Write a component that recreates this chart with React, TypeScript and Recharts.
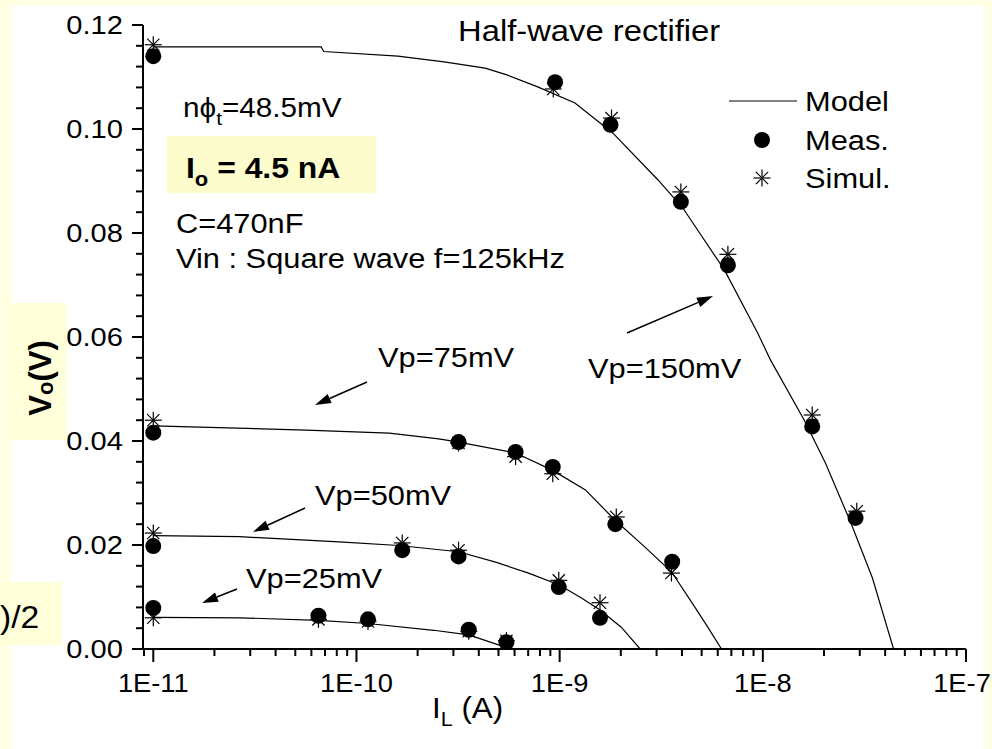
import { ComposedChart, Line, Scatter, XAxis, YAxis } from 'recharts';

const FONT = 'Arial, "Liberation Sans", Helvetica, sans-serif';

// x axis: load current I_L (A), log scale
const X_DOMAIN = [8.9e-12, 1e-7];
const X_MAJOR = [1e-11, 1e-10, 1e-9, 1e-8, 1e-7];
const X_LABELS = ['1E-11', '1E-10', '1E-9', '1E-8', '1E-7'];
const X_MINOR_STEPS = [2, 3, 4, 5, 6, 7, 8, 9];

// y axis: Vo (V)
const Y_MAJOR = [0, 0.02, 0.04, 0.06, 0.08, 0.1, 0.12];
const Y_LABELS = ['0.00', '0.02', '0.04', '0.06', '0.08', '0.10', '0.12'];
const Y_MINOR_PER_MAJOR = 5;

// model curves [I_L, Vo]
const model150 = [
  [1e-11, 0.1158], [6.7e-11, 0.1158], [6.9e-11, 0.1149], [1.6e-10, 0.114],
  [2.7e-10, 0.1129], [4.3e-10, 0.1117], [5.5e-10, 0.1104], [7.8e-10, 0.1081],
  [1.19e-9, 0.105], [1.83e-9, 0.0992], [3.05e-9, 0.0902], [4.04e-9, 0.0848],
  [6.47e-9, 0.0729], [9.42e-9, 0.0608], [1.09e-8, 0.0556], [1.6e-8, 0.044],
  [2.03e-8, 0.0358], [2.69e-8, 0.0246], [3.46e-8, 0.0137], [4.4e-8, 0],
];
const model75 = [
  [1e-11, 0.0429], [5.65e-11, 0.0421], [1.45e-10, 0.0415], [2.54e-10, 0.0404],
  [3.18e-10, 0.0398], [6.07e-10, 0.0377], [9.2e-10, 0.0344], [1.34e-9, 0.0306],
  [1.87e-9, 0.0248], [2.63e-9, 0.0196], [3.56e-9, 0.0148], [4.62e-9, 0.0081],
  [5.36e-9, 0.0042], [6.26e-9, 0],
];
const model50 = [
  [1e-11, 0.0218], [2.66e-11, 0.0216], [8.2e-11, 0.0206], [1.62e-10, 0.0199],
  [3.18e-10, 0.0187], [4.84e-10, 0.0167], [7.03e-10, 0.0146], [9.97e-10, 0.0123],
  [1.28e-9, 0.0098], [1.58e-9, 0.0075], [2.01e-9, 0.0042], [2.49e-9, 0],
];
const model25 = [
  [1e-11, 0.0061], [2.66e-11, 0.006], [6.5e-11, 0.0055], [1.14e-10, 0.0049],
  [2.4e-10, 0.0036], [3.57e-10, 0.0027], [5.0e-10, 0.0008], [5.8e-10, 0],
];

// measured points
const meas150 = [[1e-11, 0.114], [9.5e-10, 0.109], [1.78e-9, 0.1008], [3.95e-9, 0.086], [6.73e-9, 0.0738], [1.75e-8, 0.0428], [2.86e-8, 0.0252]];
const meas75 = [[1e-11, 0.0416], [3.18e-10, 0.0398], [6.07e-10, 0.0379], [9.25e-10, 0.035], [1.88e-9, 0.024], [3.58e-9, 0.0168]];
const meas50 = [[1e-11, 0.0198], [1.68e-10, 0.019], [3.18e-10, 0.0178], [9.9e-10, 0.0119], [1.58e-9, 0.006]];
const meas25 = [[1e-11, 0.0079], [6.5e-11, 0.0064], [1.14e-10, 0.0057], [3.57e-10, 0.0037], [5.47e-10, 0.0013]];

// simulated points
const sim150 = [[1e-11, 0.1162], [9.3e-10, 0.1077], [1.8e-9, 0.1021], [3.95e-9, 0.0879], [6.73e-9, 0.0759], [1.75e-8, 0.045], [2.9e-8, 0.0265]];
const sim75 = [[1e-11, 0.044], [3.18e-10, 0.0396], [6.07e-10, 0.037], [9.25e-10, 0.0337], [1.9e-9, 0.0254], [3.55e-9, 0.0146]];
const sim50 = [[1e-11, 0.0223], [1.68e-10, 0.0204], [3.18e-10, 0.019], [9.9e-10, 0.0132], [1.58e-9, 0.0089]];
const sim25 = [[1e-11, 0.006], [6.5e-11, 0.0057], [1.14e-10, 0.0053], [3.57e-10, 0.0034], [5.47e-10, 0.0016]];

const toPts = (arr: number[][]) => arr.map(([x, y]) => ({ x, y }));

const X_TICKS: number[] = [9e-12];
X_MAJOR.forEach((m, i) => {
  X_TICKS.push(m);
  if (i < X_MAJOR.length - 1) X_MINOR_STEPS.forEach((s) => X_TICKS.push(m * s));
});

const Y_TICKS: number[] = [];
Y_MAJOR.forEach((m, i) => {
  Y_TICKS.push(m);
  if (i < Y_MAJOR.length - 1) {
    const step = (Y_MAJOR[i + 1] - m) / Y_MINOR_PER_MAJOR;
    for (let k = 1; k < Y_MINOR_PER_MAJOR; k++) Y_TICKS.push(m + step * k);
  }
});

function XTick({ x, y, payload }: any) {
  const i = X_MAJOR.findIndex((v) => Math.abs(v - payload.value) / v < 1e-6);
  if (i < 0) return <line x1={x} x2={x} y1={y} y2={y + 7} stroke="#000" strokeWidth={2} />;
  // last label sits against the right edge, as in the reference
  const tx = i === X_MAJOR.length - 1 ? x - 4 : x;
  return (
    <g>
      <line x1={x} x2={x} y1={y} y2={y + 13} stroke="#000" strokeWidth={2} />
      <text transform={`translate(${tx},${y + 43}) scale(1.05,1)`} textAnchor="middle" fontSize={26} fontFamily={FONT} fill="#000">
        {X_LABELS[i]}
      </text>
    </g>
  );
}

function YTick({ x, y, payload }: any) {
  const i = Y_MAJOR.findIndex((v) => Math.abs(v - payload.value) < 1e-6);
  if (i < 0) return <line x1={x - 7} x2={x} y1={y} y2={y} stroke="#000" strokeWidth={2} />;
  return (
    <g>
      <line x1={x - 11} x2={x} y1={y} y2={y} stroke="#000" strokeWidth={2} />
      <text transform={`translate(${x - 20},${y + 9}) scale(1.12,1)`} textAnchor="end" fontSize={26} fontFamily={FONT} fill="#000">
        {Y_LABELS[i]}
      </text>
    </g>
  );
}

const dot = (p: any) => <circle cx={p.cx} cy={p.cy} r={8} fill="#000" />;

function star(p: any) {
  const r = 8.5;
  const d = r * 0.72;
  return (
    <g stroke="#000" strokeWidth={1.2}>
      <line x1={p.cx} y1={p.cy - r} x2={p.cx} y2={p.cy + r} />
      <line x1={p.cx - r} y1={p.cy} x2={p.cx + r} y2={p.cy} />
      <line x1={p.cx - d} y1={p.cy - d} x2={p.cx + d} y2={p.cy + d} />
      <line x1={p.cx - d} y1={p.cy + d} x2={p.cx + d} y2={p.cy - d} />
    </g>
  );
}

function Arrow({ x1, y1, x2, y2 }: { x1: number; y1: number; x2: number; y2: number }) {
  const a = Math.atan2(y2 - y1, x2 - x1);
  const len = 16;
  const w = 5;
  const bx = x2 - len * Math.cos(a);
  const by = y2 - len * Math.sin(a);
  const px = -Math.sin(a) * w;
  const py = Math.cos(a) * w;
  return (
    <g>
      <line x1={x1} y1={y1} x2={bx} y2={by} stroke="#000" strokeWidth={1.5} />
      <polygon points={`${x2},${y2} ${bx + px},${by + py} ${bx - px},${by - py}`} fill="#000" />
    </g>
  );
}

function Txt({ x, y, size = 28, sx = 1.1, bold = false, anchor = 'start', children }: any) {
  return (
    <text
      transform={`translate(${x},${y}) scale(${sx},1)`}
      fontSize={size}
      fontFamily={FONT}
      fontWeight={bold ? 'bold' : 'normal'}
      textAnchor={anchor}
      fill="#000"
    >
      {children}
    </text>
  );
}

export default function App() {
  const lines = [model150, model75, model50, model25];
  const sims = [sim150, sim75, sim50, sim25];
  const meas = [meas150, meas75, meas50, meas25];
  return (
    <div style={{ position: 'absolute', left: 0, top: 0, width: 992, height: 749, background: '#FFFFE3', overflow: 'hidden' }}>
      <svg width={992} height={749} style={{ position: 'absolute', left: 0, top: 0 }}>
        <rect x={12} y={6} width={973} height={743} fill="#fff" />
        <rect x={12} y={303} width={55} height={137} fill="#FFFFDA" />
        <rect x={0} y={582} width={62} height={63} fill="#FFFFDA" />
        <rect x={167} y={136} width={209} height={57} fill="#FCFCCC" />
      </svg>
      <div style={{ position: 'absolute', left: 0, top: 0 }}>
        <ComposedChart width={992} height={749} margin={{ top: 25, right: 26, bottom: 40, left: 63 }}>
          <XAxis
            dataKey="x"
            type="number"
            scale="log"
            domain={X_DOMAIN}
            allowDataOverflow
            ticks={X_TICKS}
            interval={0}
            tick={<XTick />}
            tickLine={false}
            tickSize={0}
            tickMargin={0}
            height={60}
            axisLine={{ stroke: '#000', strokeWidth: 2 }}
          />
          <YAxis
            dataKey="y"
            type="number"
            domain={[0, 0.12]}
            allowDataOverflow
            ticks={Y_TICKS}
            interval={0}
            tick={<YTick />}
            tickLine={false}
            tickSize={0}
            tickMargin={0}
            width={80}
            axisLine={{ stroke: '#000', strokeWidth: 2 }}
          />
          {lines.map((d, i) => (
            <Line key={`m${i}`} data={toPts(d)} dataKey="y" type="linear" dot={false} stroke="#000" strokeWidth={1.2} isAnimationActive={false} />
          ))}
          {sims.map((d, i) => (
            <Scatter key={`s${i}`} data={toPts(d)} dataKey="y" shape={star} isAnimationActive={false} />
          ))}
          {meas.map((d, i) => (
            <Scatter key={`p${i}`} data={toPts(d)} dataKey="y" shape={dot} isAnimationActive={false} />
          ))}
        </ComposedChart>
      </div>
      <svg width={992} height={749} style={{ position: 'absolute', left: 0, top: 0, pointerEvents: 'none' }}>
        <Txt x={458} y={41} size={29} sx={1.13}>Half-wave rectifier</Txt>
        <Txt x={183} y={117} size={27} sx={1.1}>
          n{'\u03D5'}<tspan fontSize={19} dy={8}>t</tspan><tspan dy={-8}>=48.5mV</tspan>
        </Txt>
        <Txt x={186} y={178} size={29} sx={1.1} bold>
          I<tspan fontSize={20} dy={8}>o</tspan><tspan dy={-8}> = 4.5 nA</tspan>
        </Txt>
        <Txt x={176} y={233} size={28} sx={1.1}>C=470nF</Txt>
        <Txt x={176} y={268} size={28} sx={1.1}>Vin : Square wave f=125kHz</Txt>
        <Txt x={378} y={367} size={28} sx={1.1}>Vp=75mV</Txt>
        <Txt x={588} y={378} size={28} sx={1.1}>Vp=150mV</Txt>
        <Txt x={315} y={505} size={28} sx={1.1}>Vp=50mV</Txt>
        <Txt x={246} y={588} size={28} sx={1.1}>Vp=25mV</Txt>
        <Arrow x1={367} y1={382} x2={315} y2={405} />
        <Arrow x1={305} y1={508} x2={253} y2={532} />
        <Arrow x1={237} y1={589} x2={202} y2={603} />
        <Arrow x1={627} y1={333} x2={713} y2={296} />

        {/* legend */}
        <line x1={729} x2={797} y1={101} y2={101} stroke="#000" strokeWidth={1.2} />
        <Txt x={805} y={111} size={28} sx={1.1}>Model</Txt>
        {dot({ cx: 762, cy: 140 })}
        <Txt x={805} y={150} size={28} sx={1.1}>Meas.</Txt>
        {star({ cx: 762, cy: 178 })}
        <Txt x={805} y={188} size={28} sx={1.1}>Simul.</Txt>

        {/* axis titles */}
        <text transform="translate(51,378) rotate(-90)" textAnchor="middle" fontSize={31} fontWeight="bold" fontFamily={FONT} fill="#000">
          V<tspan fontSize={22} dy={2}>o</tspan><tspan dy={-2}>(V)</tspan>
        </text>
        <Txt x={432} y={718} size={29} sx={1.08}>
          I<tspan fontSize={20} dy={8}>L</tspan><tspan dy={-8}> (A)</tspan>
        </Txt>
        <Txt x={0} y={628} size={32} sx={1.05}>)/2</Txt>
      </svg>
    </div>
  );
}
